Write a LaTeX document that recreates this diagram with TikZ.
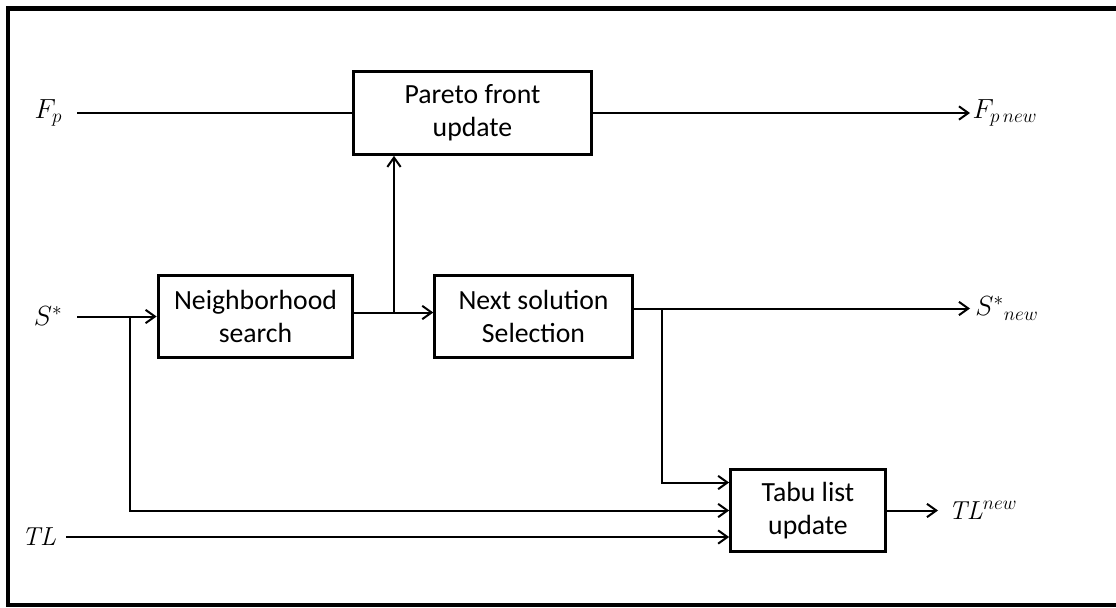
\documentclass[tikz,border=0pt]{standalone}
\usepackage{fontspec}
\setsansfont{Carlito}
\usetikzlibrary{arrows.meta}

\begin{document}
\begin{tikzpicture}[x=0.75pt,y=-0.75pt,line width=1.5pt,
    block/.style={draw,line width=2.3pt,align=center,inner sep=0pt,minimum height=62pt,
        font=\sffamily\fontsize{20.8}{25}\selectfont},
    lbl/.style={inner sep=0pt,font=\fontsize{19.5}{23}\selectfont},
    arr/.style={-{Straight Barb[length=7pt,width=10pt,line width=1.5pt]}}]
    \useasboundingbox (0,0) rectangle (1116,607);
    \draw[line width=3.6pt] (8,8.5) rectangle (1130,605);

    % blocks
    \node[block,minimum width=179pt] (pareto) at (472.5,113) {Pareto front\\update};
    \node[block,minimum width=146pt] (neigh) at (255.5,316.5) {Neighborhood\\search};
    \node[block,minimum width=148pt] (next) at (533.5,316.5) {Next solution\\Selection};
    \node[block,minimum width=116pt] (tabu) at (808,510.5) {Tabu list\\update};

    % inputs and outputs
    \node[lbl,anchor=east,outer xsep=11pt] (Fp) at (77,113) {$F_p$};
    \node[lbl,anchor=east,outer xsep=11pt] (S) at (77,316.5) {$S^*$};
    \node[lbl,anchor=east,outer xsep=7.5pt] (TL) at (66,537) {$\mathit{TL}$};
    \node[lbl,anchor=west,outer xsep=2pt] (Fpnew) at (970,113) {$F_{p\,new}$};
    \node[lbl,anchor=west,outer xsep=4pt] (Snew) at (970,308.5) {$S^*{}_{new}$};
    \node[lbl,anchor=west,outer xsep=8pt] (TLnew) at (938,510.5) {$\mathit{TL}^{new}$};

    \coordinate (sbr) at (130,316.5);
    \coordinate (j2) at (394,312.5);
    \coordinate (j3) at (662,308.5);

    \draw (Fp.east) -- (pareto.west);
    \draw[arr] (pareto.east) -- (Fpnew.west);
    \draw[arr] (S.east) -- (neigh.west);
    \draw[arr] ([yshift=3pt]neigh.east) -- ([yshift=3pt]next.west);
    \draw[arr] (j2) -- (j2 |- pareto.south);
    \draw[arr] ([yshift=6pt]next.east) -- (Snew.west);
    \draw[arr] (j3) |- ([yshift=21pt]tabu.west);
    \draw[arr] (sbr) |- (tabu.west);
    \draw[arr] (TL.east) -- (TL.east -| tabu.west);
    \draw[arr] (tabu.east) -- (TLnew.west);
\end{tikzpicture}
\end{document}
